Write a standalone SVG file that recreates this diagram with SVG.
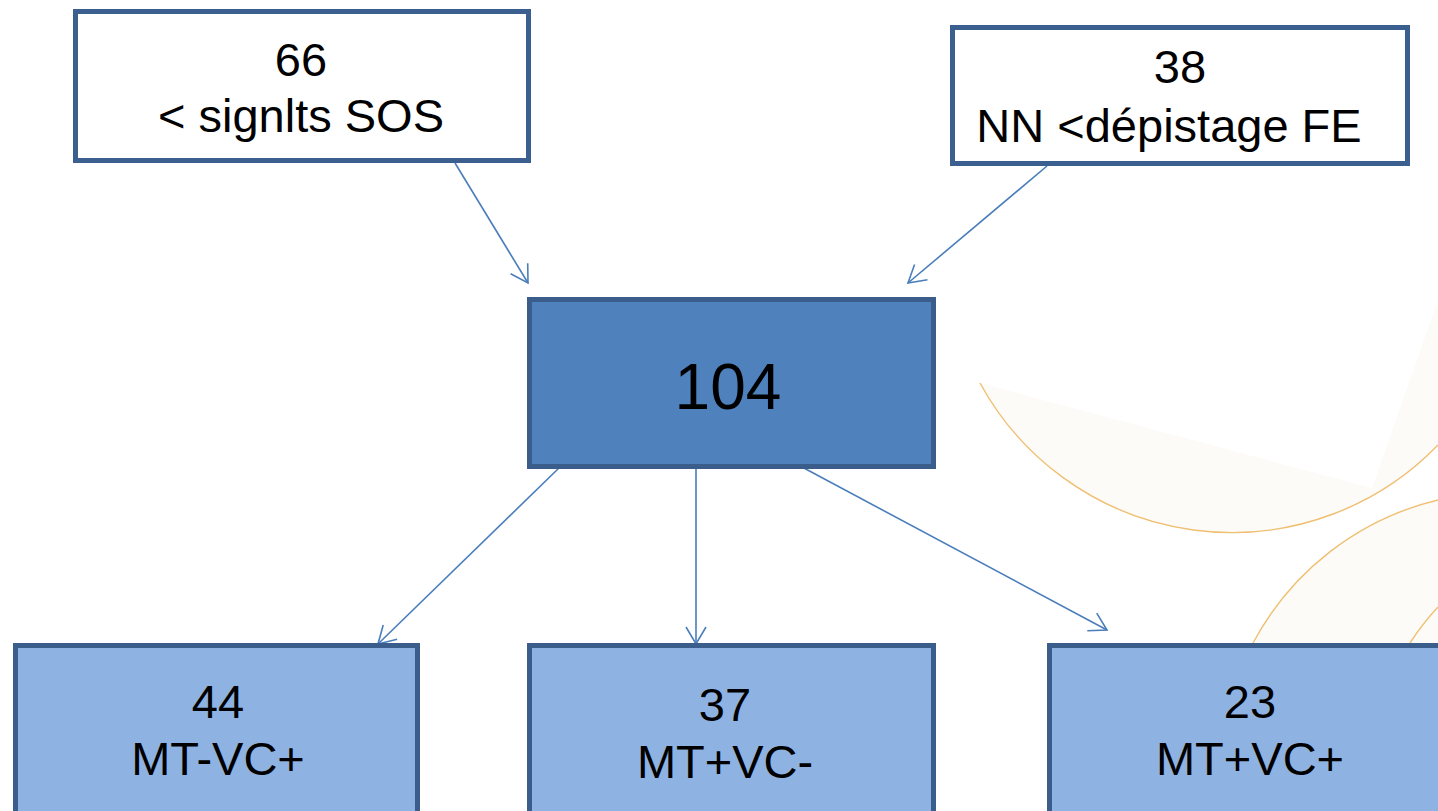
<svg xmlns="http://www.w3.org/2000/svg" width="1438" height="811" viewBox="0 0 1438 811">
  <style>
    .label { font-family: "Liberation Sans", Arial, sans-serif; fill: #000; text-anchor: middle; }
    .src { fill: #ffffff; stroke: #3b5f8e; stroke-width: 5; }
    .hub { fill: #4f81bd; stroke: #3a5d8b; stroke-width: 5; }
    .leaf { fill: #8eb3e2; stroke: #3a5d8b; stroke-width: 5; }
    .edge { fill: none; stroke: #4a7ebb; stroke-width: 1.6; }
    .deco { fill: none; stroke: #efbf72; stroke-width: 1.4; }
    .haze { fill: #fdfbf8; stroke: none; }
  </style>
  <defs>
    <marker id="arrow" markerUnits="userSpaceOnUse" markerWidth="40" markerHeight="40" viewBox="-20 -20 40 40" refX="0" refY="0" orient="auto">
      <path d="M -17,-10 L 0,0 L -17,10" fill="none" stroke="#4a7ebb" stroke-width="1.6"/>
    </marker>
  </defs>

  <rect width="1438" height="811" fill="#ffffff"/>

  <!-- background ornament: pale arcs at the right edge -->
  <g id="ornament">
    <path class="haze" d="M 980,383 A 286.7,286.7 0 0 0 1438,445 L 1438,300 L 1372,488 Z"/>
    <path class="haze" d="M 1253,643 A 285,285 0 0 1 1438,500 L 1438,643 Z"/>
    <path class="deco" d="M 980,383 A 286.7,286.7 0 0 0 1438,445"/>
    <path class="deco" d="M 1253,643 A 285,285 0 0 1 1438,500"/>
    <path class="deco" d="M 1410,643 A 257,257 0 0 1 1438,607"/>
  </g>

  <g id="connectors">
    <line class="edge" x1="455" y1="163" x2="528" y2="283" marker-end="url(#arrow)"/>
    <line class="edge" x1="1047" y1="166" x2="908" y2="283" marker-end="url(#arrow)"/>
    <line class="edge" x1="560" y1="467" x2="378" y2="644" marker-end="url(#arrow)"/>
    <line class="edge" x1="696" y1="467" x2="696" y2="644" marker-end="url(#arrow)"/>
    <line class="edge" x1="802" y1="467" x2="1107" y2="630" marker-end="url(#arrow)"/>
  </g>

  <g id="node-66">
    <rect class="src" x="75.5" y="11.5" width="453" height="149"/>
    <text class="label" x="301" y="76" font-size="47">66</text>
    <text class="label" x="301" y="132" font-size="47">&lt; signlts SOS</text>
  </g>

  <g id="node-38">
    <rect class="src" x="952.5" y="27.5" width="455" height="136"/>
    <text class="label" x="1180" y="83" font-size="47">38</text>
    <text class="label" x="1169" y="142" font-size="47">NN &lt;dépistage FE</text>
  </g>

  <g id="node-104">
    <rect class="hub" x="529.5" y="299.5" width="404" height="167"/>
    <text class="label" x="728" y="409" font-size="64">104</text>
  </g>

  <g id="node-44">
    <rect class="leaf" x="15.5" y="645.5" width="402" height="200"/>
    <text class="label" x="218" y="718" font-size="47">44</text>
    <text class="label" x="218" y="775" font-size="47">MT-VC+</text>
  </g>

  <g id="node-37">
    <rect class="leaf" x="529.5" y="645.5" width="404" height="200"/>
    <text class="label" x="725" y="721" font-size="47">37</text>
    <text class="label" x="725" y="778" font-size="47">MT+VC-</text>
  </g>

  <g id="node-23">
    <rect class="leaf" x="1049.5" y="645.5" width="420" height="200"/>
    <text class="label" x="1250" y="718" font-size="47">23</text>
    <text class="label" x="1250" y="775" font-size="47">MT+VC+</text>
  </g>
</svg>
